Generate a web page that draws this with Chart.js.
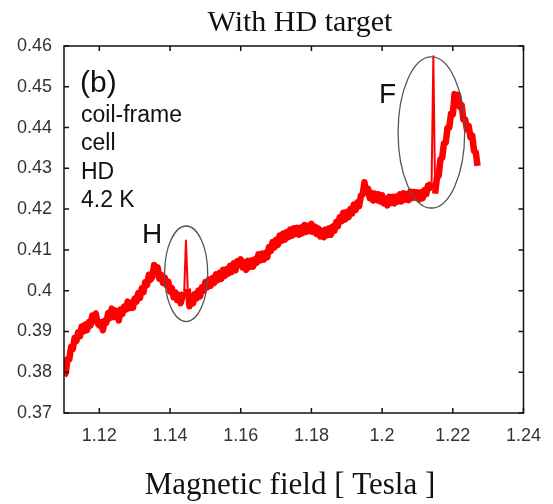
<!DOCTYPE html>
<html>
<head>
<meta charset="utf-8">
<script src="https://cdn.jsdelivr.net/npm/chart.js@4"></script>
<style>
  html, body { margin: 0; padding: 0; background: #fff; }
  canvas { display: block; }
</style>
</head>
<body>
<canvas id="field-chart" width="553" height="504"></canvas>
<script>
// Magnetic field sweep [T]
const fieldT = [
    1.1100, 1.1105, 1.1110, 1.1115, 1.1120, 1.1125, 1.1130, 1.1135, 1.1140, 1.1145,
    1.1150, 1.1155, 1.1160, 1.1165, 1.1170, 1.1175, 1.1180, 1.1185, 1.1190, 1.1195,
    1.1200, 1.1205, 1.1210, 1.1215, 1.1220, 1.1225, 1.1230, 1.1235, 1.1240, 1.1245,
    1.1250, 1.1255, 1.1260, 1.1265, 1.1270, 1.1275, 1.1280, 1.1285, 1.1290, 1.1295,
    1.1300, 1.1305, 1.1310, 1.1315, 1.1320, 1.1325, 1.1330, 1.1335, 1.1340, 1.1345,
    1.1350, 1.1355, 1.1360, 1.1365, 1.1370, 1.1375, 1.1380, 1.1385, 1.1390, 1.1395,
    1.1400, 1.1405, 1.1410, 1.1415, 1.1420, 1.1425, 1.1430, 1.1435, 1.1440, 1.1445,
    1.1450, 1.1455, 1.1460, 1.1465, 1.1470, 1.1475, 1.1480, 1.1485, 1.1490, 1.1495,
    1.1500, 1.1505, 1.1510, 1.1515, 1.1520, 1.1525, 1.1530, 1.1535, 1.1540, 1.1545,
    1.1550, 1.1555, 1.1560, 1.1565, 1.1570, 1.1575, 1.1580, 1.1585, 1.1590, 1.1595,
    1.1600, 1.1605, 1.1610, 1.1615, 1.1620, 1.1625, 1.1630, 1.1635, 1.1640, 1.1645,
    1.1650, 1.1655, 1.1660, 1.1665, 1.1670, 1.1675, 1.1680, 1.1685, 1.1690, 1.1695,
    1.1700, 1.1705, 1.1710, 1.1715, 1.1720, 1.1725, 1.1730, 1.1735, 1.1740, 1.1745,
    1.1750, 1.1755, 1.1760, 1.1765, 1.1770, 1.1775, 1.1780, 1.1785, 1.1790, 1.1795,
    1.1800, 1.1805, 1.1810, 1.1815, 1.1820, 1.1825, 1.1830, 1.1835, 1.1840, 1.1845,
    1.1850, 1.1855, 1.1860, 1.1865, 1.1870, 1.1875, 1.1880, 1.1885, 1.1890, 1.1895,
    1.1900, 1.1905, 1.1910, 1.1915, 1.1920, 1.1925, 1.1930, 1.1935, 1.1940, 1.1945,
    1.1950, 1.1955, 1.1960, 1.1965, 1.1970, 1.1975, 1.1980, 1.1985, 1.1990, 1.1995,
    1.2000, 1.2005, 1.2010, 1.2015, 1.2020, 1.2025, 1.2030, 1.2035, 1.2040, 1.2045,
    1.2050, 1.2055, 1.2060, 1.2065, 1.2070, 1.2075, 1.2080, 1.2085, 1.2090, 1.2095,
    1.2100, 1.2105, 1.2110, 1.2115, 1.2120, 1.2125, 1.2130, 1.2135, 1.2140, 1.2145,
    1.2150, 1.2155, 1.2160, 1.2165, 1.2170, 1.2175, 1.2180, 1.2185, 1.2190, 1.2195,
    1.2200, 1.2205, 1.2210, 1.2215, 1.2220, 1.2225, 1.2230, 1.2235, 1.2240, 1.2245,
    1.2250, 1.2255, 1.2260, 1.2265, 1.2270,
];

// Signal read along the sweep
const signal = [
    0.3792, 0.3798, 0.3832, 0.3832, 0.3862, 0.3857, 0.3884, 0.3876, 0.3898, 0.3888,
    0.3912, 0.3900, 0.3917, 0.3903, 0.3923, 0.3915, 0.3939, 0.3927, 0.3944, 0.3920,
    0.3915, 0.3923, 0.3903, 0.3926, 0.3922, 0.3945, 0.3933, 0.3956, 0.3935, 0.3951,
    0.3945, 0.3927, 0.3954, 0.3943, 0.3961, 0.3954, 0.3973, 0.3957, 0.3970, 0.3958,
    0.3981, 0.3973, 0.3994, 0.3982, 0.4006, 0.3996, 0.4021, 0.4014, 0.4039, 0.4027,
    0.4034, 0.4063, 0.4051, 0.4057, 0.4029, 0.4039, 0.4019, 0.4032, 0.4014, 0.4022,
    0.3998, 0.4007, 0.3984, 0.3996, 0.3977, 0.3990, 0.3969, 0.3986, 0.3995, 0.4123,
    0.4005, 0.3962, 0.3981, 0.3969, 0.3992, 0.3981, 0.4000, 0.3986, 0.4008, 0.4000,
    0.4021, 0.4008, 0.4027, 0.4012, 0.4031, 0.4019, 0.4040, 0.4026, 0.4044, 0.4029,
    0.4051, 0.4036, 0.4053, 0.4042, 0.4061, 0.4046, 0.4067, 0.4050, 0.4072, 0.4064,
    0.4077, 0.4057, 0.4070, 0.4051, 0.4073, 0.4058, 0.4074, 0.4059, 0.4077, 0.4068,
    0.4089, 0.4074, 0.4091, 0.4076, 0.4093, 0.4082, 0.4107, 0.4097, 0.4119, 0.4106,
    0.4125, 0.4112, 0.4135, 0.4122, 0.4140, 0.4125, 0.4144, 0.4131, 0.4150, 0.4135,
    0.4153, 0.4139, 0.4154, 0.4137, 0.4155, 0.4141, 0.4161, 0.4144, 0.4159, 0.4146,
    0.4164, 0.4144, 0.4157, 0.4139, 0.4152, 0.4133, 0.4147, 0.4131, 0.4150, 0.4136,
    0.4153, 0.4137, 0.4157, 0.4147, 0.4168, 0.4158, 0.4180, 0.4170, 0.4191, 0.4174,
    0.4193, 0.4180, 0.4200, 0.4189, 0.4211, 0.4198, 0.4217, 0.4207, 0.4233, 0.4236,
    0.4266, 0.4242, 0.4250, 0.4227, 0.4240, 0.4221, 0.4238, 0.4222, 0.4236, 0.4219,
    0.4234, 0.4214, 0.4226, 0.4209, 0.4230, 0.4215, 0.4230, 0.4214, 0.4231, 0.4219,
    0.4236, 0.4219, 0.4239, 0.4223, 0.4237, 0.4222, 0.4243, 0.4227, 0.4242, 0.4228,
    0.4241, 0.4224, 0.4241, 0.4227, 0.4247, 0.4237, 0.4258, 0.4252, 0.4266, 0.4575,
    0.4238, 0.4276, 0.4282, 0.4322, 0.4326, 0.4361, 0.4363, 0.4399, 0.4400, 0.4434,
    0.4432, 0.4482, 0.4471, 0.4480, 0.4451, 0.4455, 0.4420, 0.4420, 0.4396, 0.4404,
    0.4376, 0.4380, 0.4343, 0.4339, 0.4306,
];

const xTickValues = [1.12, 1.14, 1.16, 1.18, 1.2, 1.22, 1.24];
const xTickLabels = ['1.12', '1.14', '1.16', '1.18', '1.2', '1.22', '1.24'];
const yTickValues = [0.37, 0.38, 0.39, 0.4, 0.41, 0.42, 0.43, 0.44, 0.45, 0.46];
const yTickLabels = ['0.37', '0.38', '0.39', '0.4', '0.41', '0.42', '0.43', '0.44', '0.45', '0.46'];

// circled resonances: centre and half-axes in data units
const circled = [
    { x: 1.14456, y: 0.40414, rx: 0.0061, ry: 0.01172 },
    { x: 1.21394, y: 0.43879, rx: 0.00942, ry: 0.01852 },
];

const sans = '"Liberation Sans", Arial, sans-serif';
const serif = '"Liberation Serif", "Times New Roman", serif';

// closed frame with inward ticks on all four sides, plus the text
const framePlugin = {
    id: 'frame',
    afterDatasetsDraw(chart) {
        const { ctx, chartArea: a, scales } = chart;
        const tick = 5;
        ctx.save();

        ctx.strokeStyle = '#555';
        ctx.lineWidth = 1.3;
        circled.forEach(c => {
            const cx = scales.x.getPixelForValue(c.x);
            const cy = scales.y.getPixelForValue(c.y);
            const rx = Math.abs(scales.x.getPixelForValue(c.x + c.rx) - cx);
            const ry = Math.abs(scales.y.getPixelForValue(c.y + c.ry) - cy);
            ctx.beginPath();
            ctx.ellipse(cx, cy, rx, ry, 0, 0, Math.PI * 2);
            ctx.stroke();
        });

        ctx.strokeStyle = '#111';
        ctx.lineWidth = 1.5;
        ctx.strokeRect(a.left, a.top, a.right - a.left, a.bottom - a.top);
        ctx.beginPath();
        xTickValues.forEach(v => {
            const px = scales.x.getPixelForValue(v);
            ctx.moveTo(px, a.bottom); ctx.lineTo(px, a.bottom - tick);
            ctx.moveTo(px, a.top); ctx.lineTo(px, a.top + tick);
        });
        yTickValues.forEach(v => {
            const py = scales.y.getPixelForValue(v);
            ctx.moveTo(a.left, py); ctx.lineTo(a.left + tick, py);
            ctx.moveTo(a.right, py); ctx.lineTo(a.right - tick, py);
        });
        ctx.stroke();

        ctx.fillStyle = '#111';
        ctx.textAlign = 'left';
        ctx.textBaseline = 'alphabetic';
        ctx.font = '30px ' + sans;
        ctx.fillText('(b)', a.left + 16, a.top + 46);
        ctx.font = '23px ' + sans;
        ['coil-frame', 'cell', 'HD', '4.2 K'].forEach((t, i) => {
            ctx.fillText(t, a.left + 17, a.top + 76 + i * 28.4);
        });
        ctx.font = '28px ' + sans;
        ctx.fillText('H', a.left + 78, a.top + 197);
        ctx.fillText('F', a.left + 315, a.top + 57);

        ctx.textAlign = 'center';
        ctx.font = '30px ' + serif;
        ctx.fillText('With HD target', 300, 31);
        ctx.font = '31px ' + serif;
        ctx.fillText('Magnetic field [ Tesla ]', 290, 494);
        ctx.restore();
    },
};

// the narrow resonance spikes are drawn with a thin stroke
const spikeStep = 0.008;
const isSpike = s => Math.abs(s.p1.parsed.y - s.p0.parsed.y) > spikeStep;

const ctx = document.getElementById('field-chart').getContext('2d');
new Chart(ctx, {
    type: 'line',
    data: {
        datasets: [
            {
                data: fieldT.map((x, i) => ({ x, y: signal[i] })),
                borderColor: '#ff0000',
                borderWidth: 6.5,
                borderJoinStyle: 'round',
                pointRadius: 0,
                tension: 0,
                fill: false,
                segment: {
                    borderWidth: s => (isSpike(s) ? 2 : undefined),
                },
            },
        ],
    },
    options: {
        responsive: false,
        animation: false,
        layout: { padding: { top: 46, right: 20, left: 0, bottom: 0 } },
        plugins: {
            legend: { display: false },
            tooltip: { enabled: false },
        },
        scales: {
            x: {
                type: 'linear',
                min: 1.11,
                max: 1.24,
                afterBuildTicks: s => { s.ticks = xTickValues.map(v => ({ value: v })); },
                afterFit: s => { s.height = 91; },
                grid: { display: false, drawTicks: false },
                border: { display: false },
                ticks: {
                    padding: 12,
                    maxRotation: 0,
                    autoSkip: false,
                    color: '#333',
                    font: { family: sans, size: 18 },
                    callback: (v, i) => xTickLabels[i],
                },
            },
            y: {
                min: 0.37,
                max: 0.46,
                afterBuildTicks: s => { s.ticks = yTickValues.map(v => ({ value: v })); },
                afterFit: s => { s.width = 64; },
                grid: { display: false, drawTicks: false },
                border: { display: false },
                ticks: {
                    padding: 12,
                    autoSkip: false,
                    color: '#333',
                    font: { family: sans, size: 18 },
                    callback: (v, i) => yTickLabels[i],
                },
            },
        },
    },
    plugins: [framePlugin],
});
</script>
</body>
</html>
